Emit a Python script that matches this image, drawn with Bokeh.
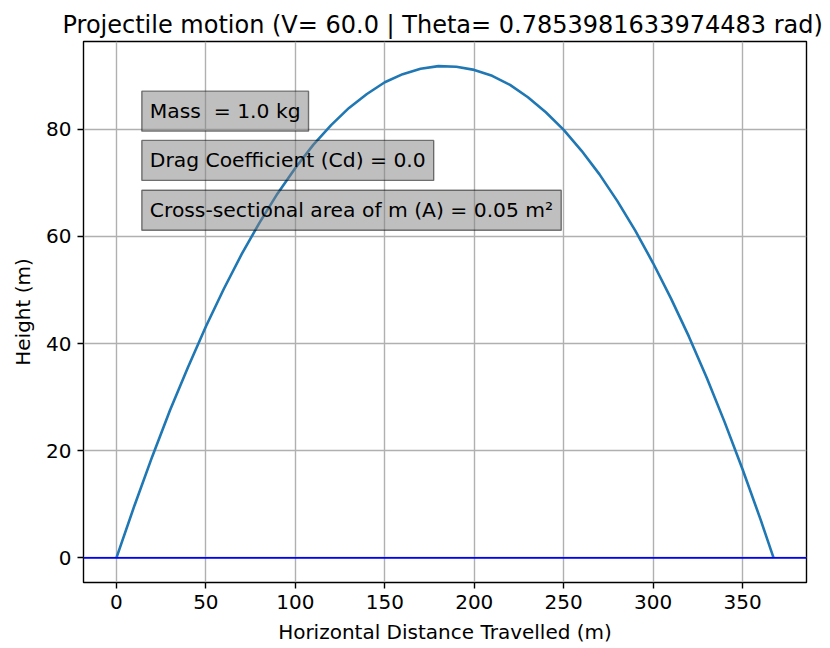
from bokeh.plotting import figure
from bokeh.models import Range1d, FixedTicker, Span, Label
from bokeh.embed import file_html
from bokeh.resources import INLINE

# Trajectory (m)
dist_x = [0, 10, 20, 30, 40, 50, 60, 70, 80, 90, 100, 110, 120, 130, 140, 150, 160, 170, 180, 190,
          200, 210, 220, 230, 240, 250, 260, 270, 280, 290, 300, 310, 320, 330, 340, 350, 360, 367.3]
height_y = [0, 9.7, 18.9, 27.6, 35.6, 43.2, 50.2, 56.7, 62.6, 68.0, 72.8, 77.1, 80.8, 84.0, 86.6, 88.8, 90.3, 91.3, 91.8, 91.7,
            91.1, 90.0, 88.3, 86.0, 83.2, 79.9, 76.0, 71.6, 66.6, 61.1, 55.0, 48.4, 41.3, 33.6, 25.3, 16.5, 7.2, 0]

x_ticks = [0, 50, 100, 150, 200, 250, 300, 350]
y_ticks = [0, 20, 40, 60, 80]

title_text = "Projectile motion (V= 60.0 | Theta= 0.7853981633974483 rad)"
info_texts = ["Mass \u00a0= 1.0 kg", "Drag Coefficient (Cd) = 0.0", "Cross-sectional area of m (A) = 0.05 m\u00b2"]
info_y = [83.4, 74.2, 64.9]

FONT = "DejaVu Sans"

p = figure(width=822, height=646, output_backend="svg", toolbar_location=None,
           x_range=Range1d(-18.4, 385.7), y_range=Range1d(-4.59, 96.4),
           min_border_left=83, min_border_right=16, min_border_top=41, min_border_bottom=64,
           title=title_text)

p.title.text_font = FONT
p.title.text_font_size = "24px"
p.title.text_font_style = "normal"
p.title.align = "left"
p.title.offset = -21
p.title.text_color = "black"
p.title.standoff = 6

p.outline_line_color = "black"
p.outline_line_width = 1.4
p.outline_line_alpha = 1.0

for ax in (p.xaxis[0], p.yaxis[0]):
    ax.axis_line_color = None
    ax.major_tick_in = 0
    ax.major_tick_out = 6
    ax.major_tick_line_width = 1.4
    ax.major_tick_line_color = "black"
    ax.minor_tick_line_color = None
    ax.major_label_text_font = FONT
    ax.major_label_text_font_size = "20px"
    ax.major_label_text_color = "black"
    ax.axis_label_text_font = FONT
    ax.axis_label_text_font_size = "20px"
    ax.axis_label_text_font_style = "normal"
    ax.axis_label_text_color = "black"

p.xaxis.ticker = FixedTicker(ticks=x_ticks)
p.yaxis.ticker = FixedTicker(ticks=y_ticks)
p.xaxis.axis_label = "Horizontal Distance Travelled (m)"
p.yaxis.axis_label = "Height (m)"
p.xaxis.major_label_standoff = 6
p.yaxis.major_label_standoff = 6
p.xaxis.axis_label_standoff = 8
p.yaxis.axis_label_standoff = 8

p.grid.grid_line_color = "#b0b0b0"
p.grid.grid_line_width = 1.4

p.line(dist_x, height_y, line_color="#1f77b4", line_width=2.6)
p.add_layout(Span(location=0, dimension="width", line_color="blue", line_width=1.8))

for t, yy in zip(info_texts, info_y):
    p.add_layout(Label(x=14.2, y=yy, text=t, text_font=FONT, text_font_size="20.3px",
                       text_color="black", text_align="left", text_baseline="middle",
                       background_fill_color="gray", background_fill_alpha=0.5,
                       border_line_color="black", border_line_alpha=0.5, border_line_width=1.4,
                       padding=8))

open("out.html", "w").write(file_html(p, INLINE))
